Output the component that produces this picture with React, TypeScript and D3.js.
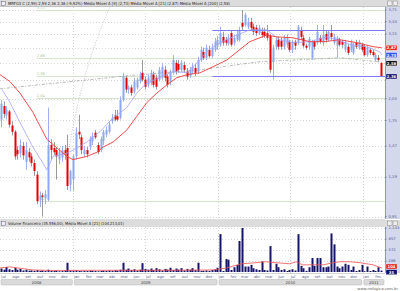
import React from 'react';
import * as d3 from 'd3';

// ---------- DATA ----------
const firstWeek = '2008-07-02';
const opens = [1.76,1.93,1.81,1.86,1.69,1.62,1.43,1.40,1.47,1.32,1.41,1.37,1.31,1.21,1.02,1.05,1.03,1.02,1.48,1.45,1.43,1.34,1.36,1.43,1.45,1.13,1.17,1.37,1.62,1.56,1.39,1.43,1.46,1.52,1.61,1.48,1.43,1.52,1.59,1.62,1.74,1.81,1.80,1.78,2.01,2.34,2.16,2.19,2.13,2.19,2.28,2.42,2.31,2.23,2.26,2.39,2.34,2.31,2.34,2.47,2.36,2.28,2.42,2.59,2.57,2.47,2.55,2.44,2.37,2.44,2.50,2.44,2.64,2.79,2.68,2.83,2.71,2.83,2.91,2.93,3.09,3.03,2.95,3.17,2.97,3.03,3.03,3.40,3.35,3.31,3.42,3.31,3.29,3.17,3.20,3.20,3.17,3.11,2.61,2.89,3.03,3.01,2.89,2.93,2.99,2.83,2.99,2.97,3.24,3.07,2.91,2.89,2.68,2.99,2.97,3.07,2.97,3.15,3.03,3.17,2.97,2.91,3.03,2.99,2.83,2.89,2.83,2.77,2.97,2.87,2.93,2.89,2.73,2.83,2.79,2.64,2.68,2.59];
const highs = [2.01,1.99,1.93,1.88,1.74,1.64,1.47,1.54,1.51,1.51,1.45,1.40,1.34,1.24,1.08,1.07,1.09,1.91,1.54,1.51,1.46,1.45,1.47,1.48,1.59,1.25,1.39,1.67,1.82,1.59,1.47,1.46,1.57,1.61,1.64,1.51,1.57,1.64,1.68,1.74,1.83,1.88,1.88,2.06,2.42,2.37,2.22,2.23,2.34,2.34,2.44,2.64,2.36,2.39,2.47,2.44,2.39,2.52,2.59,2.54,2.40,2.47,2.73,2.64,2.64,2.64,2.61,2.50,2.52,2.59,2.57,2.70,2.89,2.87,2.93,2.91,2.95,3.07,3.11,3.31,3.20,3.09,3.15,3.24,3.13,3.24,3.31,3.71,3.64,3.52,3.52,3.38,3.35,3.35,3.29,3.29,3.35,3.15,2.93,3.09,3.09,3.07,3.13,3.15,3.03,3.03,3.03,3.35,3.31,3.13,2.95,3.09,3.03,3.03,3.35,3.13,3.35,3.24,3.24,3.35,3.15,3.11,3.07,3.03,3.03,2.95,3.03,2.97,3.03,3.03,2.97,2.93,2.91,2.87,2.83,2.77,2.73,2.59];
const lows = [1.67,1.78,1.76,1.67,1.58,1.34,1.34,1.36,1.34,1.25,1.32,1.28,1.20,0.99,0.97,0.91,0.99,1.01,1.34,1.38,1.17,1.30,1.32,1.34,1.09,1.08,1.08,1.34,1.54,1.39,1.36,1.36,1.43,1.48,1.54,1.39,1.41,1.48,1.56,1.60,1.71,1.74,1.74,1.76,1.99,2.11,2.10,2.07,2.10,2.16,2.25,2.28,2.16,2.19,2.22,2.19,2.16,2.28,2.31,2.28,2.19,2.22,2.39,2.39,2.42,2.44,2.42,2.31,2.34,2.40,2.37,2.40,2.61,2.64,2.64,2.68,2.68,2.79,2.83,2.89,2.91,2.91,2.91,2.89,2.91,2.99,2.99,3.24,3.31,3.26,3.24,3.13,3.11,3.13,3.07,3.07,3.01,2.42,2.31,2.83,2.83,2.83,2.83,2.87,2.79,2.77,2.83,2.93,3.03,2.87,2.83,2.83,2.64,2.83,2.93,2.95,2.91,2.97,2.99,3.03,2.93,2.68,2.89,2.87,2.79,2.73,2.79,2.73,2.85,2.83,2.79,2.70,2.70,2.73,2.70,2.61,2.61,2.36];
const closes = [1.96,1.83,1.88,1.70,1.62,1.37,1.39,1.48,1.38,1.43,1.36,1.31,1.24,1.01,1.05,1.04,1.06,1.48,1.43,1.41,1.37,1.41,1.43,1.39,1.12,1.24,1.37,1.61,1.59,1.43,1.43,1.39,1.54,1.57,1.56,1.41,1.54,1.62,1.64,1.70,1.78,1.76,1.76,2.01,2.37,2.16,2.19,2.11,2.28,2.31,2.37,2.31,2.20,2.34,2.42,2.23,2.20,2.47,2.52,2.34,2.23,2.44,2.64,2.44,2.47,2.59,2.47,2.36,2.47,2.52,2.42,2.64,2.83,2.68,2.87,2.71,2.87,2.99,3.03,3.17,2.97,2.97,3.07,2.93,3.07,3.15,3.24,3.31,3.59,3.42,3.29,3.20,3.17,3.29,3.13,3.11,3.07,2.47,2.87,3.03,2.89,2.89,3.07,3.09,2.83,2.99,2.91,3.31,3.09,2.91,2.87,3.05,2.99,2.89,3.20,2.99,3.13,3.03,3.20,3.09,3.09,3.07,2.93,2.93,2.99,2.77,2.97,2.93,2.89,2.99,2.83,2.73,2.87,2.77,2.73,2.73,2.64,2.36];
const volumes = [90,60,130,70,50,110,60,80,40,60,35,40,30,50,30,40,25,60,30,25,35,20,25,40,240,40,30,45,25,20,30,25,35,30,25,20,30,35,30,40,30,45,35,60,240,60,90,50,70,40,60,230,80,60,90,50,100,70,40,80,60,110,50,90,60,100,40,80,60,100,50,240,30,30,40,30,55,70,110,984,27,336,319,53,124,186,806,1143,142,142,186,97,71,53,275,53,40,673,53,213,124,53,71,27,53,71,40,984,160,97,30,124,363,160,363,363,124,124,142,1002,718,142,97,142,213,186,53,142,27,53,186,20,142,27,53,27,124,35.56];

const ma9Dates = ['2008-07-05','2008-07-25','2008-08-19','2008-09-21','2008-10-16','2008-10-26','2008-11-11','2008-12-16','2009-01-10','2009-02-04','2009-03-09','2009-04-11','2009-05-16','2009-06-10','2009-07-06','2009-08-07','2009-09-09','2009-10-15','2009-11-16','2009-12-08','2010-01-06','2010-02-18','2010-03-22','2010-05-04','2010-06-06','2010-07-09','2010-08-21','2010-10-03','2010-10-28','2010-11-30','2011-01-11','2011-02-13','2011-02-18'];
const ma9Values = [2.16,1.98,1.73,1.46,1.31,1.25,1.37,1.40,1.45,1.51,1.62,1.78,1.91,2.11,2.26,2.34,2.44,2.42,2.64,2.83,2.97,3.13,3.24,3.24,3.03,2.97,2.99,3.09,3.03,2.93,2.89,2.79,2.73];
const ma21Dates = ['2008-06-30','2008-07-25','2008-08-19','2008-09-21','2008-10-26','2008-11-21','2008-12-16','2008-12-31','2009-02-04','2009-03-02','2009-03-17','2009-04-11','2009-05-16','2009-06-10','2009-07-06','2009-07-31','2009-08-25','2009-09-19','2009-10-15','2009-11-16','2009-12-19','2010-01-23','2010-03-22','2010-05-04','2010-05-29','2010-07-09','2010-08-21','2010-09-23','2010-11-04','2010-12-17','2011-01-27','2011-02-18'];
const ma21Values = [2.39,2.28,2.11,1.85,1.54,1.45,1.37,1.34,1.37,1.41,1.46,1.51,1.64,1.80,1.98,2.11,2.23,2.34,2.39,2.42,2.52,2.64,2.99,3.13,3.09,3.07,2.99,2.99,3.03,2.97,2.89,2.87];
const ma200Dates = ['2008-06-30','2009-05-16','2009-11-16','2010-04-17','2010-11-04','2011-02-18'];
const ma200Values = [2.17,2.37,2.47,2.61,2.68,2.60];
const volMaDates = ['2008-06-30','2008-07-25','2008-09-21','2008-11-03','2009-03-01','2009-07-15','2009-11-16','2009-12-19','2010-01-23','2010-03-01','2010-04-05','2010-05-01','2010-05-29','2010-07-01','2010-07-17','2010-08-02','2010-09-23','2010-10-18','2010-11-04','2010-11-30','2010-12-25','2011-01-27','2011-02-18'];
const volMaValues = [106,133,53,40,45,45,50,53,106,213,240,266,240,213,266,186,186,240,266,266,240,186,104.21];

const fibLevels = [3.71, 2.68, 2.36, 2.04, 1.01];
const fibStart = '2008-10-01';
const levelLines = [3.24, 2.36];
const levelStart = '2009-12-18';
const trendDates = ['2008-12-16', '2009-04-11'];
const trendPrices = [1.34, 3.96];

const priceTicks = [0.91, 1.19, 1.47, 1.75, 2.03, 2.31, 2.59, 2.87, 3.15, 3.43, 3.71];
const volumeTicks = [286, 572, 857, 1143];
const monthNames = ['jan','fev','mar','abr','mai','jun','jul','ago','set','out','nov','dez'];
const lastValues = { ma21: 2.87, ma9: 2.73, ma200: 2.58, close: 2.36, volMa: 104.21, vol: 35.56 };

const mainTitle = 'MRFG3  C (2,59) 2,59 2,36 2,36 (-9,92%)  Média Móvel A [9] (2,73)  Média Móvel A [21] (2,87)  Média Móvel A [200] (2,58)';
const volTitle = 'Volume Financeiro (35.556,00), Média Móvel A [21] (104.213,01)';

// ---------- HELPERS ----------
const parse = d3.timeParse('%Y-%m-%d');
const br = d3.formatLocale({ decimal: ',', thousands: '.', grouping: [3], currency: ['R$', ''] });
const fmt2 = br.format('.2f');
const fmtInt = br.format(',d');
const FONT = '"DejaVu Sans", "Liberation Sans", sans-serif';

export default function App() {
  const W = 400, H = 291;
  const PX = 385;
  const MT = 7, MB = 219;
  const VTT = 220, VT = 227, VB = 273;

  const x = d3.scaleTime().domain([new Date(2008, 5, 30), new Date(2011, 1, 26)]).range([0, PX]);
  const y = d3.scaleLog().domain([0.91, 3.71]).range([216.5, 10]);
  const yv = d3.scaleLinear().domain([0, 1143]).range([272, 228]);

  const start = parse(firstWeek) as Date;
  const dates = opens.map((_, i) => d3.timeDay.offset(start, 7 * i));

  const line = d3.line<[Date, number]>().x(d => x(d[0])).y(d => y(d[1]));
  const vline = d3.line<[Date, number]>().x(d => x(d[0])).y(d => yv(d[1]));
  const pairs = (ds: string[], vs: number[]) => ds.map((d, i) => [parse(d) as Date, vs[i]] as [Date, number]);

  const t0 = parse(trendDates[0]) as Date, t1 = parse(trendDates[1]) as Date;
  const tScale = d3.scaleTime().domain([t0, t1]).range([trendPrices[0], trendPrices[1]]);
  const trendPts: [Date, number][] = d3.range(0, 1.0001, 0.05).map(f => {
    const dt = new Date(t0.getTime() + f * (t1.getTime() - t0.getTime()));
    return [dt, tScale(dt)] as [Date, number];
  });

  const gridX = d3.timeMonth.range(new Date(2009, 0, 1), new Date(2011, 2, 1)).filter(d => d.getMonth() % 6 === 0);
  const months = d3.timeMonth.range(new Date(2008, 6, 1), new Date(2011, 2, 1));
  const years = [2008, 2009, 2010, 2011];

  const candleW = 2;

  const boxYs = [y(lastValues.ma21), y(lastValues.ma9), y(lastValues.ma200), y(lastValues.close)];
  const visiblePriceTicks = priceTicks.filter(t => boxYs.every(b => Math.abs(b - y(t)) > 5));
  const vBoxYs = [yv(lastValues.volMa) - 1.5, yv(lastValues.vol) + 1.5];
  const visibleVolTicks = volumeTicks.filter(t => vBoxYs.every(b => Math.abs(b - yv(t)) > 5));

  const valueBox = (yy: number, txt: string, fill: string, key: string) => (
    <g key={key}>
      <rect x={386} y={yy - 2.5} width={11} height={5} fill={fill} stroke="#fff" strokeWidth={0.3} />
      <text x={391.5} y={yy + 1.5} fontSize={3.8} fill="#fff" textAnchor="middle" fontFamily={FONT} fontWeight="bold">{txt}</text>
    </g>
  );

  return (
    <svg width={W} height={H} style={{ position: 'absolute', left: 0, top: 0, background: '#fff' }} xmlns="http://www.w3.org/2000/svg">
      <defs>
        <clipPath id="mainClip"><rect x={0} y={MT} width={PX} height={MB - MT} /></clipPath>
        <clipPath id="volClip"><rect x={0} y={VT} width={PX} height={VB - VT} /></clipPath>
      </defs>
      <rect x={0} y={0} width={W} height={H} fill="#fff" />

      {/* title bar */}
      <rect x={0} y={0} width={W} height={MT} fill="#dcdcdc" />
      <line x1={0} x2={W} y1={MT - 0.5} y2={MT - 0.5} stroke="#b0b0b0" strokeWidth={0.6} />
      <rect x={1.5} y={1.5} width={4} height={4} fill="#eef" stroke="#667" strokeWidth={0.5} />
      <text x={8} y={5.2} fontSize={4} fill="#222" fontFamily={FONT} textLength={222} lengthAdjust="spacingAndGlyphs">{mainTitle}</text>
      <rect x={387.5} y={1} width={4.5} height={4.5} fill="#eee" stroke="#888" strokeWidth={0.5} />
      <rect x={393} y={1} width={4.5} height={4.5} fill="#eee" stroke="#888" strokeWidth={0.5} />

      {/* right axis strip */}
      <rect x={PX} y={MT} width={W - PX} height={MB - MT} fill="#d3d8ea" />
      <line x1={PX + 0.5} x2={PX + 0.5} y1={MT} y2={MB} stroke="#8f97bd" strokeWidth={1} />

      <g clipPath="url(#mainClip)">
        {priceTicks.map(t => (
          <line key={'gy' + t} x1={0} x2={PX} y1={Math.round(y(t)) + 0.5} y2={Math.round(y(t)) + 0.5} stroke="#c4c4c4" strokeWidth={0.7} strokeDasharray="1,2" />
        ))}
        {gridX.map(d => (
          <line key={'gx' + d.getTime()} x1={Math.round(x(d)) + 0.5} x2={Math.round(x(d)) + 0.5} y1={MT} y2={MB} stroke="#c4c4c4" strokeWidth={0.7} strokeDasharray="1,2" />
        ))}
        {fibLevels.map(l => (
          <g key={'fib' + l}>
            <line x1={x(parse(fibStart) as Date)} x2={PX} y1={Math.round(y(l)) + 0.5} y2={Math.round(y(l)) + 0.5} stroke="#d2e2c8" strokeWidth={0.9} />
            <text x={x(parse(fibStart) as Date)} y={y(l) - 1.2} fontSize={3.6} fill="#a9c79a" fontFamily={FONT}>{fmt2(l)}</text>
          </g>
        ))}
        <path d={line(pairs(ma200Dates, ma200Values)) || ''} fill="none" stroke="#9a9a9a" strokeWidth={0.7} strokeDasharray="3,1.5,1,1.5" />
        <path d={line(trendPts) || ''} fill="none" stroke="#b0b0b0" strokeWidth={0.7} strokeDasharray="1,1.5" />
        {dates.map((d, i) => {
          const cx = Math.round(x(d));
          const up = closes[i] >= opens[i];
          const yo = y(opens[i]), yc = y(closes[i]);
          const top = Math.min(yo, yc), bh = Math.max(1, Math.abs(yc - yo));
          return (
            <g key={'c' + i}>
              <line x1={cx + 0.5} x2={cx + 0.5} y1={y(highs[i])} y2={y(lows[i])} stroke={up ? '#9fb0f2' : '#9a9a9a'} strokeWidth={1} />
              <rect x={cx - candleW / 2 + 0.5} y={top} width={candleW} height={bh} fill={up ? '#8ea7f2' : '#e30000'} />
            </g>
          );
        })}
        {levelLines.map(l => (
          <line key={'lv' + l} x1={x(parse(levelStart) as Date)} x2={PX} y1={Math.round(y(l)) + 0.5} y2={Math.round(y(l)) + 0.5} stroke="#7b7bf2" strokeWidth={1} />
        ))}
        <path d={line(pairs(ma9Dates, ma9Values)) || ''} fill="none" stroke="#a3a3ff" strokeWidth={0.8} />
        <path d={line(pairs(ma21Dates, ma21Values)) || ''} fill="none" stroke="#f03a3a" strokeWidth={0.9} />
      </g>
      <line x1={0} x2={PX} y1={MB + 0.5} y2={MB + 0.5} stroke="#c8c8c8" strokeWidth={0.6} />

      {priceTicks.map(t => (
        <line key={'ptl' + t} x1={PX} x2={PX + 2} y1={y(t)} y2={y(t)} stroke="#6870a0" strokeWidth={0.5} />
      ))}
      {visiblePriceTicks.map(t => (
        <text key={'pt' + t} x={388.5} y={y(t) + 1.4} fontSize={3.8} fill="#55608a" fontFamily={FONT}>{fmt2(t)}</text>
      ))}
      {valueBox(boxYs[0], fmt2(lastValues.ma21), '#e82020', 'b1')}
      {valueBox(boxYs[1], fmt2(lastValues.ma9), '#3a52e8', 'b2')}
      {valueBox(boxYs[2], fmt2(lastValues.ma200), '#111', 'b3')}
      {valueBox(boxYs[3], fmt2(lastValues.close), '#101070', 'b4')}

      {/* volume title bar */}
      <rect x={0} y={VTT} width={W} height={VT - VTT} fill="#dcdcdc" />
      <rect x={1.5} y={VTT + 1.5} width={4} height={4} fill="#eef" stroke="#667" strokeWidth={0.5} />
      <text x={8} y={VTT + 5} fontSize={4} fill="#222" fontFamily={FONT} textLength={116} lengthAdjust="spacingAndGlyphs">{volTitle}</text>
      <rect x={387.5} y={VTT + 1} width={4.5} height={4.5} fill="#eee" stroke="#888" strokeWidth={0.5} />
      <rect x={393} y={VTT + 1} width={4.5} height={4.5} fill="#eee" stroke="#888" strokeWidth={0.5} />

      <rect x={PX} y={VT} width={W - PX} height={VB - VT} fill="#d3d8ea" />
      <line x1={PX + 0.5} x2={PX + 0.5} y1={VT} y2={VB} stroke="#8f97bd" strokeWidth={1} />
      <g clipPath="url(#volClip)">
        {volumeTicks.map(t => (
          <line key={'vg' + t} x1={0} x2={PX} y1={Math.round(yv(t)) + 0.5} y2={Math.round(yv(t)) + 0.5} stroke="#c4c4c4" strokeWidth={0.7} strokeDasharray="1,2" />
        ))}
        {gridX.map(d => (
          <line key={'vgx' + d.getTime()} x1={Math.round(x(d)) + 0.5} x2={Math.round(x(d)) + 0.5} y1={VT} y2={VB} stroke="#c4c4c4" strokeWidth={0.7} strokeDasharray="1,2" />
        ))}
        {dates.map((d, i) => {
          const cx = Math.round(x(d));
          return <rect key={'v' + i} x={cx - 0.5} y={yv(volumes[i])} width={2} height={yv(0) - yv(volumes[i])} fill="#15156a" />;
        })}
        <path d={vline(pairs(volMaDates, volMaValues)) || ''} fill="none" stroke="#f05050" strokeWidth={0.8} />
      </g>
      {volumeTicks.map(t => (
        <line key={'vtl' + t} x1={PX} x2={PX + 2} y1={yv(t)} y2={yv(t)} stroke="#6870a0" strokeWidth={0.5} />
      ))}
      {visibleVolTicks.map(t => (
        <text key={'vt' + t} x={388.5} y={yv(t) + 1.4} fontSize={3.8} fill="#55608a" fontFamily={FONT}>{fmtInt(t)}</text>
      ))}
      {valueBox(vBoxYs[0], fmtInt(Math.floor(lastValues.volMa)), '#e82020', 'vb1')}
      {valueBox(vBoxYs[1], fmtInt(Math.floor(lastValues.vol)), '#101070', 'vb2')}
      <line x1={0} x2={PX} y1={VB + 0.5} y2={VB + 0.5} stroke="#b8b8b8" strokeWidth={0.6} />

      {months.map(m => (
        <text key={'m' + m.getTime()} x={x(m) + 3.2} y={278} fontSize={3.8} fill="#55608a" textAnchor="middle" fontFamily={FONT}>{monthNames[m.getMonth()]}</text>
      ))}
      {years.map(yr => {
        const x0 = Math.max(0, x(new Date(yr, 0, 1)));
        const x1 = Math.min(PX, x(new Date(yr + 1, 0, 1)));
        return (
          <g key={'y' + yr}>
            <rect x={x0 + 1} y={279.5} width={x1 - x0 - 2} height={5.5} rx={1} fill="#dadada" stroke="#b5b5b5" strokeWidth={0.5} />
            <text x={(x0 + x1) / 2} y={283.6} fontSize={3.8} fill="#444" textAnchor="middle" fontFamily={FONT}>{yr}</text>
          </g>
        );
      })}
      <text x={398} y={289.8} fontSize={3.8} fill="#666" textAnchor="end" fontFamily={FONT}>www.nelogica.com.br</text>
    </svg>
  );
}
